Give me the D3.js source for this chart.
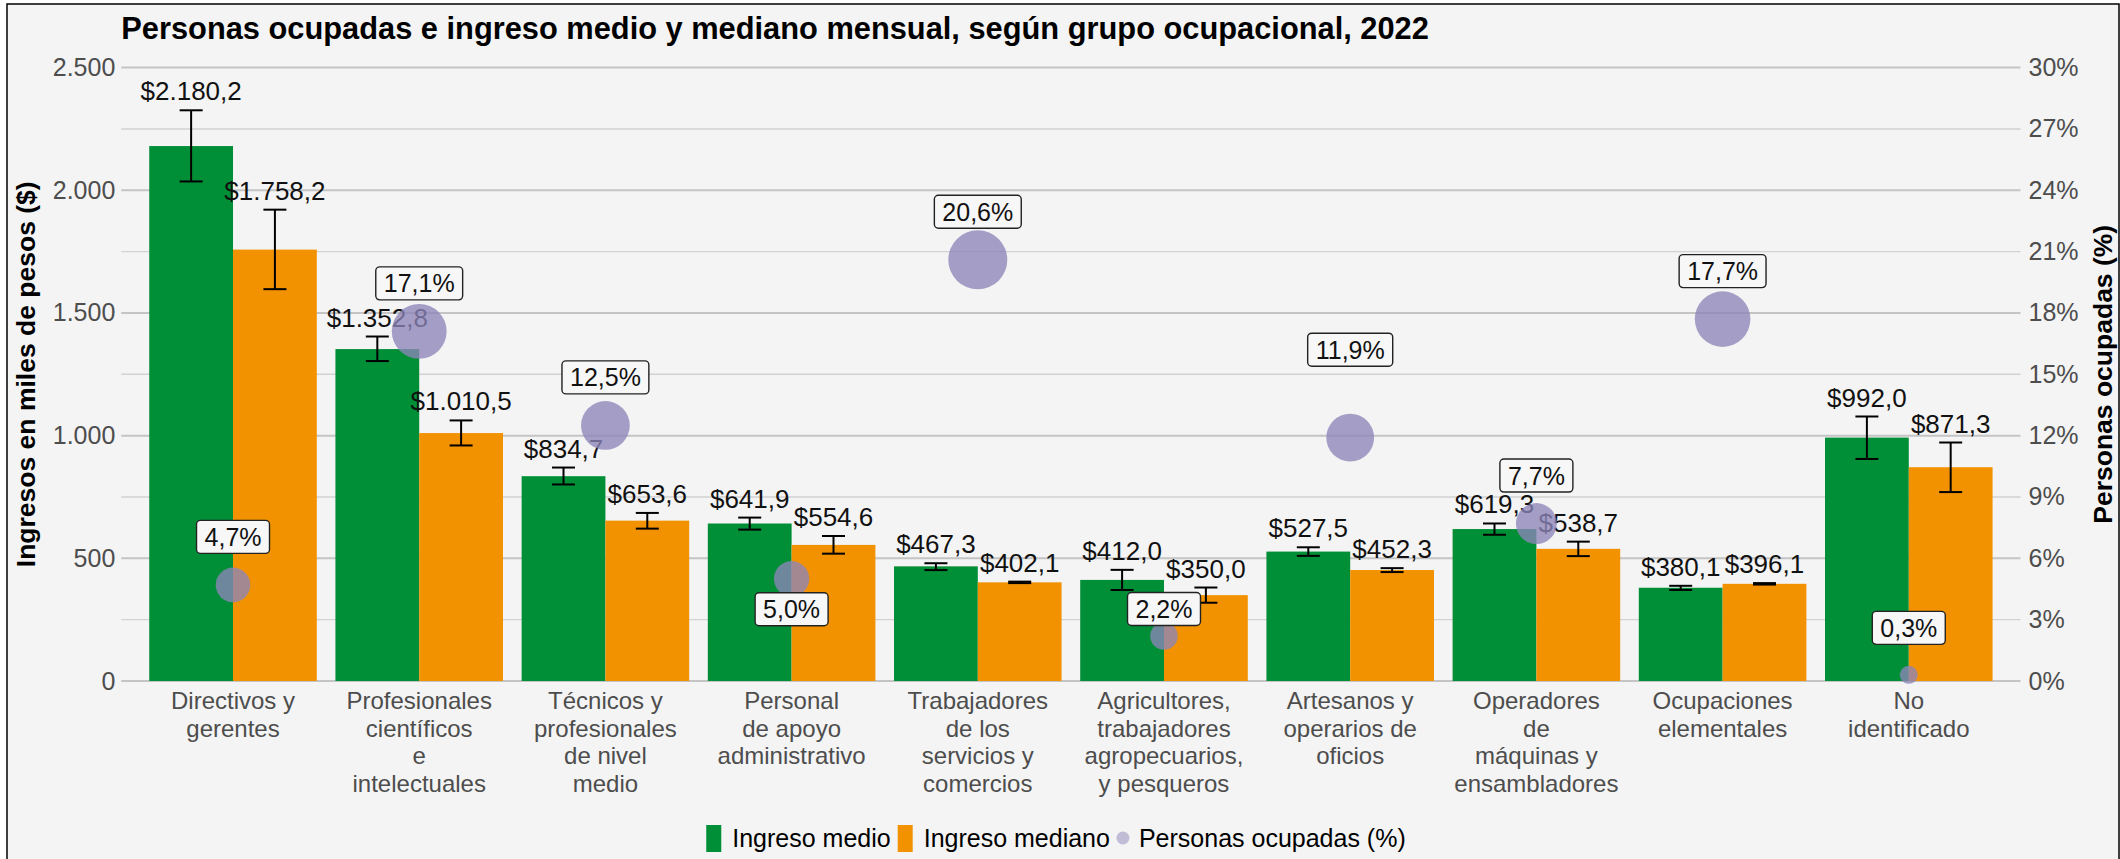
<!DOCTYPE html>
<html>
<head>
<meta charset="utf-8">
<script src="https://cdn.jsdelivr.net/npm/d3@7"></script>
<style>
  body { margin: 0; background: #ffffff; }
  svg { display: block; font-family: "Liberation Sans", Arial, sans-serif; }
</style>
</head>
<body>
<div id="chart"></div>
<script>
// categories (line breaks as in the original axis)
const categories = [
  "Directivos y\ngerentes",
  "Profesionales\ncientíficos\ne\nintelectuales",
  "Técnicos y\nprofesionales\nde nivel\nmedio",
  "Personal\nde apoyo\nadministrativo",
  "Trabajadores\nde los\nservicios y\ncomercios",
  "Agricultores,\ntrabajadores\nagropecuarios,\ny pesqueros",
  "Artesanos y\noperarios de\noficios",
  "Operadores\nde\nmáquinas y\nensambladores",
  "Ocupaciones\nelementales",
  "No\nidentificado"
];

// ingresos en miles de pesos
const ingresoMedio   = [2180.2, 1352.8, 834.7, 641.9, 467.3, 412.0, 527.5, 619.3, 380.1, 992.0];
const ingresoMediano = [1758.2, 1010.5, 653.6, 554.6, 402.1, 350.0, 452.3, 538.7, 396.1, 871.3];

// intervalos de confianza
const medioLow    = [2036, 1304, 801, 617, 452, 371, 510, 596, 371, 905];
const medioHigh   = [2326, 1404, 870, 666, 480, 453, 545, 642, 388, 1078];
const medianoLow  = [1597, 960, 621, 519, 399, 319, 444, 509, 393, 770];
const medianoHigh = [1921, 1062, 685, 591, 405, 381, 460, 568, 399, 972];

// personas ocupadas (%)
const ocupadosPct = [4.7, 17.1, 12.5, 5.0, 20.6, 2.2, 11.9, 7.7, 17.7, 0.3];

const leftTicks = [0, 500, 1000, 1500, 2000, 2500];
const gridTicks = [0, 250, 500, 750, 1000, 1250, 1500, 1750, 2000, 2250, 2500];
const rightTicks = [0, 3, 6, 9, 12, 15, 18, 21, 24, 27, 30];

const seriesNames = ["Ingreso medio", "Ingreso mediano"];
const seriesColors = ["#008f36", "#f39200"];
const dotColor = "rgb(141,133,186)";

const width = 2120;
const height = 859;
const panel = { left: 121.3, right: 2020.5, top: 67.6, bottom: 681 };

// vertical shift of each % label box from its bubble (px), like ggrepel placed them
const labelShift = [-48, -48, -48, 30.5, -48, -27, -88, -48, -48, -47];

const loc = d3.formatLocale({ decimal: ",", thousands: ".", grouping: [3], currency: ["$", ""] });
const fmtMoney = loc.format("$,.1f");
const fmtThousands = loc.format(",.0f");
const fmtPct = loc.format(".1f");

const rows = categories.map((c, i) => ({
  cat: c,
  vals: [
    { key: 0, value: ingresoMedio[i], lo: medioLow[i], hi: medioHigh[i] },
    { key: 1, value: ingresoMediano[i], lo: medianoLow[i], hi: medianoHigh[i] }
  ],
  pct: ocupadosPct[i],
  shift: labelShift[i]
}));

const svg = d3.select("#chart").append("svg")
  .attr("width", width)
  .attr("height", height);

// background + frame
svg.append("rect")
  .attr("x", 7).attr("y", 4)
  .attr("width", 2112).attr("height", 900)
  .attr("fill", "#f4f4f4")
  .attr("stroke", "#000")
  .attr("stroke-width", 1.5);

const x = d3.scaleBand()
  .domain(categories)
  .range([panel.left, panel.right])
  .paddingInner(0.1)
  .paddingOuter(0.15);

const xSub = d3.scaleBand()
  .domain([0, 1])
  .range([0, x.bandwidth()]);

const y = d3.scaleLinear().domain([0, 2500]).range([panel.bottom, panel.top]);
const yPct = d3.scaleLinear().domain([0, 30]).range([panel.bottom, panel.top]);
const r = d3.scaleSqrt().domain([0.3, 20.6]).range([9, 29.5]);

// gridlines
svg.append("g")
  .selectAll("line")
  .data(gridTicks)
  .join("line")
  .attr("x1", panel.left)
  .attr("x2", panel.right)
  .attr("y1", d => y(d))
  .attr("y2", d => y(d))
  .attr("stroke", d => d % 500 === 0 ? "#c4c4c4" : "#d2d2d2")
  .attr("stroke-width", d => d % 500 === 0 ? 2 : 1.4);

// left axis
const yAxis = svg.append("g")
  .attr("transform", `translate(${panel.left - 6},0)`)
  .call(d3.axisLeft(y).tickValues(leftTicks).tickFormat(fmtThousands).tickSize(0).tickPadding(0));
yAxis.select(".domain").remove();
yAxis.selectAll("text")
  .attr("font-size", "25px")
  .attr("fill", "#4d4d4d")
  .attr("font-family", "Liberation Sans, Arial, sans-serif");

// right axis
const yAxisR = svg.append("g")
  .attr("transform", `translate(${panel.right + 8},0)`)
  .call(d3.axisRight(yPct).tickValues(rightTicks).tickFormat(d => d + "%").tickSize(0).tickPadding(0));
yAxisR.select(".domain").remove();
yAxisR.selectAll("text")
  .attr("font-size", "25px")
  .attr("fill", "#4d4d4d")
  .attr("font-family", "Liberation Sans, Arial, sans-serif");

// x axis labels (multi-line)
const xLab = svg.append("g")
  .selectAll("text")
  .data(categories)
  .join("text")
  .attr("x", d => x(d) + x.bandwidth() / 2)
  .attr("y", panel.bottom + 28)
  .attr("text-anchor", "middle")
  .attr("font-size", "24px")
  .attr("fill", "#4d4d4d");
xLab.each(function (d) {
  const t = d3.select(this);
  d.split("\n").forEach((line, i) => {
    t.append("tspan")
      .attr("x", x(d) + x.bandwidth() / 2)
      .attr("dy", i === 0 ? 0 : 27.5)
      .text(line);
  });
});

// bars
const groups = svg.append("g")
  .selectAll("g")
  .data(rows)
  .join("g")
  .attr("transform", d => `translate(${x(d.cat)},0)`);

groups.selectAll("rect")
  .data(d => d.vals)
  .join("rect")
  .attr("x", d => xSub(d.key))
  .attr("y", d => y(d.value))
  .attr("width", xSub.bandwidth())
  .attr("height", d => y(0) - y(d.value))
  .attr("fill", d => seriesColors[d.key]);

// error bars
const capW = 23;
const err = groups.selectAll("g.err")
  .data(d => d.vals)
  .join("g")
  .attr("class", "err")
  .attr("stroke", "#000")
  .attr("stroke-width", 2);
err.append("line")
  .attr("x1", d => xSub(d.key) + xSub.bandwidth() / 2)
  .attr("x2", d => xSub(d.key) + xSub.bandwidth() / 2)
  .attr("y1", d => y(d.lo))
  .attr("y2", d => y(d.hi));
err.append("line")
  .attr("x1", d => xSub(d.key) + xSub.bandwidth() / 2 - capW / 2)
  .attr("x2", d => xSub(d.key) + xSub.bandwidth() / 2 + capW / 2)
  .attr("y1", d => y(d.hi))
  .attr("y2", d => y(d.hi));
err.append("line")
  .attr("x1", d => xSub(d.key) + xSub.bandwidth() / 2 - capW / 2)
  .attr("x2", d => xSub(d.key) + xSub.bandwidth() / 2 + capW / 2)
  .attr("y1", d => y(d.lo))
  .attr("y2", d => y(d.lo));

// value labels
groups.selectAll("text.val")
  .data(d => d.vals)
  .join("text")
  .attr("class", "val")
  .attr("x", d => xSub(d.key) + xSub.bandwidth() / 2)
  .attr("y", d => y(d.hi) - 10)
  .attr("text-anchor", "middle")
  .attr("font-size", "26px")
  .attr("fill", "#111")
  .text(d => fmtMoney(d.value));

// bubbles
svg.append("g")
  .selectAll("circle")
  .data(rows)
  .join("circle")
  .attr("cx", d => x(d.cat) + x.bandwidth() / 2)
  .attr("cy", d => yPct(d.pct))
  .attr("r", d => r(d.pct))
  .attr("fill", dotColor)
  .attr("fill-opacity", 0.78);

// % label boxes
const lab = svg.append("g")
  .selectAll("g")
  .data(rows)
  .join("g")
  .attr("transform", d => `translate(${x(d.cat) + x.bandwidth() / 2},${yPct(d.pct) + d.shift})`);
lab.append("text")
  .attr("text-anchor", "middle")
  .attr("dy", "0.36em")
  .attr("font-size", "25px")
  .attr("fill", "#111")
  .text(d => fmtPct(d.pct) + "%");
lab.each(function () {
  const g = d3.select(this);
  const bb = g.select("text").node().getBBox();
  g.insert("rect", "text")
    .attr("x", bb.x - 8)
    .attr("y", -16.5)
    .attr("width", bb.width + 16)
    .attr("height", 33)
    .attr("rx", 4)
    .attr("fill", "#f7f7f7")
    .attr("stroke", "#222")
    .attr("stroke-width", 1.4);
});

// title
svg.append("text")
  .attr("x", panel.left)
  .attr("y", 39)
  .attr("font-size", "30.8px")
  .attr("font-weight", "bold")
  .attr("fill", "#000")
  .text("Personas ocupadas e ingreso medio y mediano mensual, según grupo ocupacional, 2022");

// axis titles
svg.append("text")
  .attr("transform", `translate(35,${(panel.top + panel.bottom) / 2}) rotate(-90)`)
  .attr("text-anchor", "middle")
  .attr("font-size", "26.5px")
  .attr("font-weight", "bold")
  .text("Ingresos en miles de pesos ($)");

svg.append("text")
  .attr("transform", `translate(2112,${(panel.top + panel.bottom) / 2}) rotate(-90)`)
  .attr("text-anchor", "middle")
  .attr("font-size", "26.5px")
  .attr("font-weight", "bold")
  .text("Personas ocupadas (%)");

// legend
const legend = svg.append("g");
let lx = 0;
const items = [
  { label: seriesNames[0], type: "rect", color: seriesColors[0] },
  { label: seriesNames[1], type: "rect", color: seriesColors[1] },
  { label: "Personas ocupadas (%)", type: "dot", color: dotColor }
];
items.forEach(it => {
  if (it.type === "rect") {
    legend.append("rect")
      .attr("x", lx).attr("y", -13)
      .attr("width", 15).attr("height", 27)
      .attr("fill", it.color);
    lx += 15 + 11;
  } else {
    legend.append("circle")
      .attr("cx", lx + 6).attr("cy", 0).attr("r", 6.5)
      .attr("fill", it.color).attr("fill-opacity", 0.5);
    lx += 12 + 10;
  }
  const t = legend.append("text")
    .attr("x", lx).attr("y", 0)
    .attr("dy", "0.35em")
    .attr("font-size", "25px")
    .attr("fill", "#000")
    .text(it.label);
  lx += t.node().getComputedTextLength() + 7;
});
legend.attr("transform", `translate(${1056 - (lx - 7) / 2},838)`);
</script>
</body>
</html>
